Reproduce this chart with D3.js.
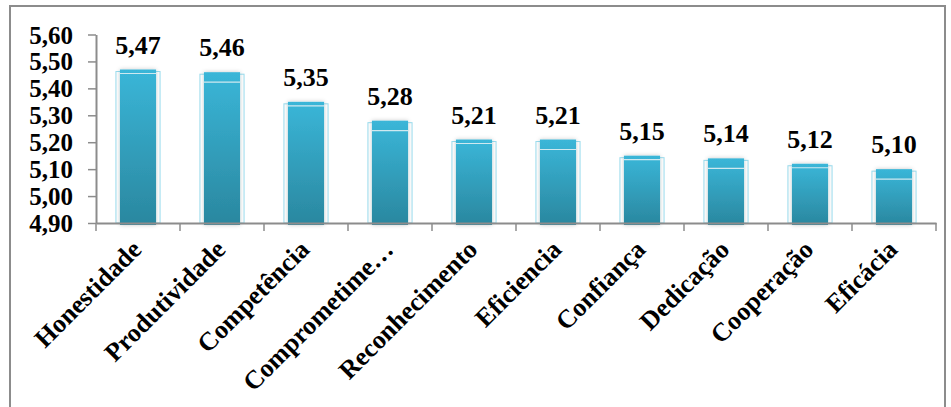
<!DOCTYPE html>
<html><head><meta charset="utf-8">
<script src="https://cdn.jsdelivr.net/npm/d3@7/dist/d3.min.js"></script>
<style>
html,body{margin:0;padding:0;background:#fff;}
svg{display:block;}
text{font-family:"Liberation Serif","Times New Roman",serif;font-weight:bold;fill:#000;}
</style></head>
<body>
<script>
const categories = ["Honestidade","Produtividade","Competência","Comprometime…","Reconhecimento","Eficiencia","Confiança","Dedicação","Cooperação","Eficácia"];
const values = [5.47,5.46,5.35,5.28,5.21,5.21,5.15,5.14,5.12,5.10];
const labels = ["5,47","5,46","5,35","5,28","5,21","5,21","5,15","5,14","5,12","5,10"];
const yTicks = [4.90,5.00,5.10,5.20,5.30,5.40,5.50,5.60];

const W = 951, H = 407;
const svg = d3.select("body").append("svg").attr("width",W).attr("height",H);

// frame
svg.append("rect").attr("x",10).attr("y",6).attr("width",935).attr("height",420)
  .attr("fill","none").attr("stroke","#8c8c8c").attr("stroke-width",2);

const x0 = 96, x1 = 936, yTop = 34.5, yBot = 223;
const x = d3.scaleBand().domain(categories).range([x0,x1]).paddingInner(0.57).paddingOuter(0.285);
const y = d3.scaleLinear().domain([4.9,5.6]).range([yBot,yTop]);

const defs = svg.append("defs");
const g = defs.append("linearGradient").attr("id","bg").attr("x1",0).attr("y1",0).attr("x2",0).attr("y2",1);
g.append("stop").attr("offset","0%").attr("stop-color","#3ab6d8");
g.append("stop").attr("offset","100%").attr("stop-color","#2a879f");
const f = defs.append("filter").attr("id","sh").attr("x","-30%").attr("y","-10%").attr("width","160%").attr("height","120%");
f.append("feGaussianBlur").attr("in","SourceAlpha").attr("stdDeviation",2).attr("result","b");
f.append("feFlood").attr("flood-color","#000").attr("flood-opacity",0.22);
f.append("feComposite").attr("in2","b").attr("operator","in").attr("result","s");
const m = f.append("feMerge"); m.append("feMergeNode").attr("in","s"); m.append("feMergeNode").attr("in","SourceGraphic");

// y axis
const yAxis = svg.append("g").attr("transform",`translate(${x0},0)`)
  .call(d3.axisLeft(y).tickValues(yTicks).tickSize(8).tickSizeOuter(0).tickPadding(15).tickFormat(d=>d.toFixed(2).replace(".",",")));
yAxis.select(".domain").attr("stroke","#8c8c8c").attr("stroke-width",2);
yAxis.selectAll(".tick line").attr("stroke","#8c8c8c").attr("stroke-width",1.5);
yAxis.selectAll("text").attr("font-size",25).attr("font-family","Liberation Serif").attr("font-weight","bold").attr("fill","#000").attr("dy","0.34em");

// bars
const bars = svg.append("g");
bars.selectAll("rect.out").data(values).join("rect").attr("class","out")
  .attr("x",(d,i)=>x(categories[i])-4).attr("width",x.bandwidth()+8)
  .attr("y",d=>y(d)+2).attr("height",d=>yBot-y(d)-2)
  .attr("fill","none").attr("stroke","#7fd3ea").attr("stroke-width",1).attr("opacity",0.8);
bars.selectAll("rect.bar").data(values).join("rect").attr("class","bar")
  .attr("x",(d,i)=>x(categories[i])).attr("width",x.bandwidth())
  .attr("y",d=>y(d)).attr("height",d=>yBot-y(d)+2)
  .attr("fill","url(#bg)").attr("filter","url(#sh)");
bars.selectAll("line.hl").data(values).join("line").attr("class","hl")
  .attr("x1",(d,i)=>x(categories[i])).attr("x2",(d,i)=>x(categories[i])+x.bandwidth())
  .attr("y1",(d,i)=>y(d)+ (i%2?10:4)).attr("y2",(d,i)=>y(d)+(i%2?10:4))
  .attr("stroke","#cfe9f0").attr("stroke-width",1.2);

// x axis
const xAxis = svg.append("g").attr("transform",`translate(0,${yBot})`)
  .call(d3.axisBottom(x).tickSize(0).tickFormat(""));
xAxis.select(".domain").attr("stroke","#8c8c8c").attr("stroke-width",2);
const step = x.step();
const tickPos = d3.range(categories.length+1).map(i=>x0+i*step);
svg.append("g").selectAll("line").data(tickPos).join("line")
  .attr("x1",d=>d).attr("x2",d=>d).attr("y1",yBot).attr("y2",yBot+8)
  .attr("stroke","#8c8c8c").attr("stroke-width",1.5);

// x labels
svg.append("g").selectAll("text").data(categories).join("text")
  .attr("transform",d=>`translate(${x(d)+x.bandwidth()/2+5},${yBot+28}) rotate(-45)`)
  .attr("text-anchor","end").attr("font-size",26).text(d=>d);

// value labels
svg.append("g").selectAll("text").data(values).join("text")
  .attr("x",(d,i)=>x(categories[i])+x.bandwidth()/2).attr("y",d=>y(d)-16)
  .attr("text-anchor","middle").attr("font-size",26).text((d,i)=>labels[i]);
</script>
</body></html>
